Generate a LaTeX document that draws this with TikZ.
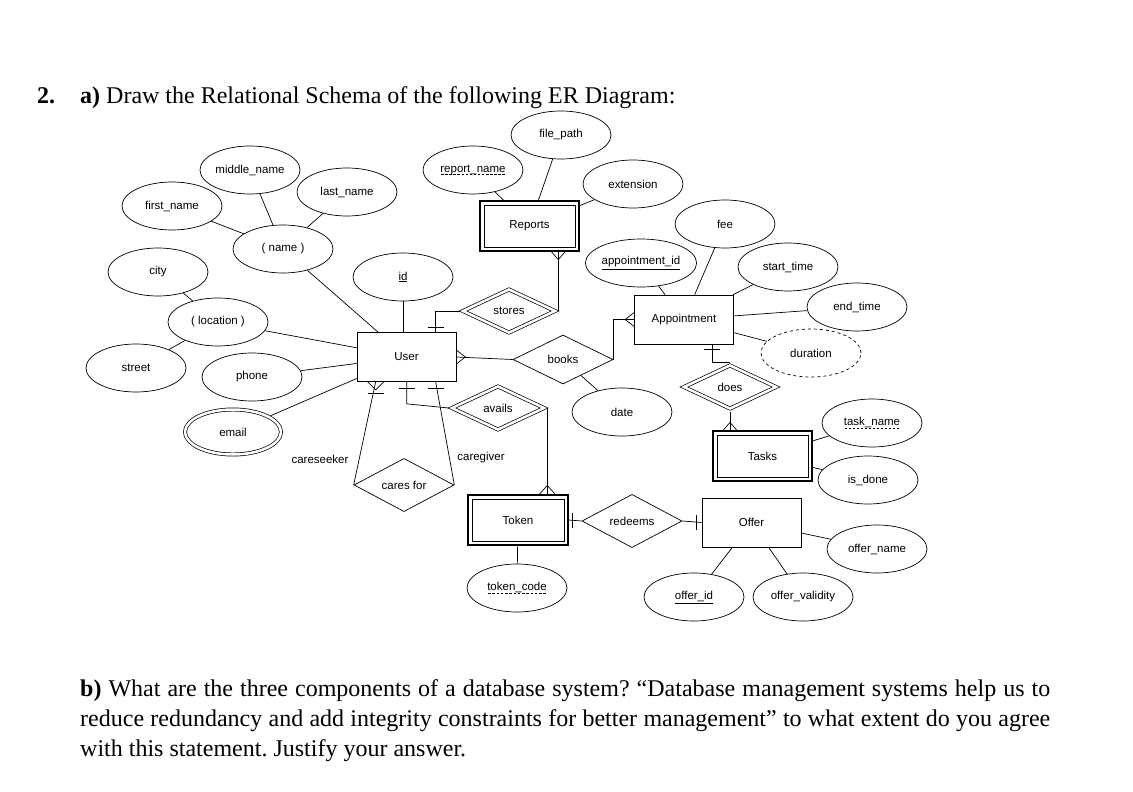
\documentclass[tikz,border=0pt]{standalone}
\usepackage{fontspec}
\setmainfont{Liberation Serif}
\newfontfamily\erfont{Liberation Sans}
\usetikzlibrary{shapes.geometric,calc}
\frenchspacing
\newcommand\dashul[1]{\setbox0=\hbox{#1}\leavevmode\rlap{\lower2.6pt\hbox to \wd0{\xleaders\hbox to 4pt{\hss\vrule height 0.7pt width 2.6pt\hss}\hfill}}\box0}
\newcommand\solul[1]{\underline{#1}}
\tikzset{
  erf/.style={font=\erfont\fontsize{11.5}{13}\selectfont},
  attr/.style={ellipse, draw, line width=0.7pt, minimum width=100pt, minimum height=48pt, inner sep=0pt, erf},
  dattr/.style={attr, dashed},
  mattr/.style={attr, double, double distance=2.5pt, minimum width=96pt, minimum height=45pt, outer sep=2.2pt},
  ent/.style={rectangle, draw, line width=0.7pt, minimum width=99pt, minimum height=49pt, inner sep=0pt, erf},
  went/.style={ent, line width=1.2pt, minimum height=50pt},
  innerbox/.style={draw, line width=0.7pt},
  rel/.style={diamond, draw, line width=0.7pt, minimum width=100pt, minimum height=49pt, inner sep=0pt, erf},
  wrel/.style={rel, double, double distance=2.5pt, minimum width=94pt, minimum height=45pt, outer sep=2.3pt},
  lnk/.style={draw, line width=0.7pt},
  lbl/.style={inner sep=0pt, erf},
}
\begin{document}
\begin{tikzpicture}[x=1pt,y=-1pt]
\useasboundingbox (0,0) rectangle (1133,792);
% title
\node[anchor=base west, inner sep=0pt, font=\fontsize{24}{30}\selectfont] (qnum) at (37,103) {\textbf{2.}};
\node[anchor=base west, inner sep=0pt, font=\fontsize{24}{30}\selectfont] (qa) at (80,103) {\textbf{a)} Draw the Relational Schema of the following ER Diagram:};
% attributes
\node[attr] (file_path) at (561,135) {file\_path};
\node[attr] (report_name) at (473,170) {\dashul{report\_name}};
\node[attr] (extension) at (633,184) {extension};
\node[went] (Reports) at (529.5,226) {Reports};
\node[attr] (appointment_id) at (641,263) {\solul{appointment\_id}};
\node[attr] (fee) at (725,224) {fee};
\node[attr] (start_time) at (788,267) {start\_time};
\node[attr] (end_time) at (857,307) {end\_time};
\node[dattr] (duration) at (811,353) {duration};
\node[ent] (Appointment) at (684,319.5) {Appointment};
\node[wrel] (does) at (730,387) {does};
\node[went] (Tasks) at (762.5,456) {Tasks};
\node[attr] (task_name) at (872,423) {\dashul{task\_name}};
\node[attr] (is_done) at (868,480) {is\_done};
\node[ent] (Offer) at (751.5,522.5) {Offer};
\node[attr] (offer_name) at (877,549) {offer\_name};
\node[attr] (offer_id) at (694,597) {\solul{offer\_id}};
\node[attr] (offer_validity) at (803,597) {offer\_validity};
\node[went, minimum width=100pt] (Token) at (518,520) {Token};
\node[attr] (token_code) at (517,588) {\dashul{token\_code}};
\node[rel] (redeems) at (632,521) {redeems};
\node[attr] (date) at (622,412) {date};
\node[rel] (books) at (563,359.5) {books};
\node[wrel] (stores) at (509,311) {stores};
\node[wrel] (avails) at (498,408) {avails};
\node[ent] (User) at (406.5,357) {User};
\node[attr] (id) at (403,277) {\solul{id}};
\node[attr] (name) at (283,249) {( name )};
\node[attr] (middle_name) at (250,170) {middle\_name};
\node[attr] (last_name) at (347,192) {last\_name};
\node[attr] (first_name) at (172,206) {first\_name};
\node[attr] (city) at (158,272) {city};
\node[attr] (location) at (218,322) {( location )};
\node[attr] (street) at (136,368) {street};
\node[attr] (phone) at (252,377) {phone};
\node[mattr] (email) at (233,432) {email};
\node[rel] (caresfor) at (404,485) {cares for};
\node[lbl] (careseeker) at (320,459) {careseeker};
\node[lbl] (caregiver) at (481,458) {caregiver};
% inner borders of weak entities
\foreach \n in {Reports,Tasks,Token}
  \draw[innerbox] ($(\n.north west)+(4.5,4.5)$) rectangle ($(\n.south east)+(-4.5,-4.5)$);
% attribute links
\draw[lnk] (middle_name) -- (name);
\draw[lnk] (last_name) -- (name);
\draw[lnk] (first_name) -- (name);
\draw[lnk] (name) -- (User);
\draw[lnk] (city) -- (location);
\draw[lnk] (street) -- (location);
\draw[lnk] (location) -- (User);
\draw[lnk] (phone) -- (User);
\draw[lnk] (email) -- (User);
\draw[lnk] (id) -- (id |- User.north);
\draw[lnk] (report_name) -- (Reports);
\draw[lnk] (file_path) -- (Reports);
\draw[lnk] (extension) -- (Reports);
\draw[lnk] (appointment_id) -- (Appointment);
\draw[lnk] (fee) -- (Appointment);
\draw[lnk] (start_time) -- (Appointment);
\draw[lnk] (end_time) -- (Appointment);
\draw[lnk] (duration) -- (Appointment);
\draw[lnk] (books) -- (date);
\draw[lnk] (Token) -- (token_code);
\draw[lnk] (task_name) -- (Tasks);
\draw[lnk] (is_done) -- (Tasks);
\draw[lnk] (offer_name) -- (Offer);
\draw[lnk] (offer_id) -- (Offer);
\draw[lnk] (offer_validity) -- (Offer);
% User -- stores
\coordinate (u1) at ($(User.north west)+(79,0)$);
\draw[lnk] (u1) |- (stores.west);
\draw[lnk] ($(u1)+(-8,-5)$) -- ($(u1)+(8,-5)$);
% stores -- Reports
\coordinate (r1) at (stores.east |- Reports.south);
\draw[lnk] (stores.east) -- (r1);
\draw[lnk] ($(r1)+(-7,0)$) -- ($(r1)+(0,8)$) -- ($(r1)+(7,0)$);
% User -- books
\draw[lnk] (User.east) -- (books.west);
\draw[lnk] ($(User.east)+(0,-7)$) -- ($(User.east)+(9,0)$) -- ($(User.east)+(0,7)$);
% books -- Appointment
\draw[lnk] (books.east) |- (Appointment.west);
\draw[lnk] ($(Appointment.west)+(0,-7)$) -- ($(Appointment.west)+(-9,0)$) -- ($(Appointment.west)+(0,7)$);
% Appointment -- does
\coordinate (a1) at ($(Appointment.south west)+(78,0)$);
\draw[lnk] (a1) |- (does.north);
\draw[lnk] ($(a1)+(-8,5)$) -- ($(a1)+(8,5)$);
% does -- Tasks
\coordinate (t1) at (does.south |- Tasks.north);
\draw[lnk] (does.south) -- (t1);
\draw[lnk] ($(t1)+(-7,0)$) -- ($(t1)+(0,-8)$) -- ($(t1)+(7,0)$);
% User -- avails
\coordinate (u3) at ($(User.south west)+(50,0)$);
\draw[lnk] (u3) -- ($(u3)+(0,22)$) -- (avails.west);
\draw[lnk] ($(u3)+(-8,6)$) -- ($(u3)+(8,6)$);
% User -- cares for (caregiver)
\coordinate (u4) at ($(User.south west)+(79,0)$);
\draw[lnk] (u4) -- (caresfor.east);
\draw[lnk] ($(u4)+(-8,6)$) -- ($(u4)+(8,6)$);
% User -- cares for (careseeker)
\coordinate (u5) at ($(User.south west)+(19,0)$);
\draw[lnk] (u5) -- (caresfor.west);
\draw[lnk] ($(u5)+(-8,0)$) -- ($(u5)+(0,8)$) -- ($(u5)+(8,0)$);
\draw[lnk] ($(u5)+(-8,11)$) -- ($(u5)+(8,11)$);
% avails -- Token
\coordinate (k1) at (avails.east |- Token.north);
\draw[lnk] (avails.east) -- (k1);
\draw[lnk] ($(k1)+(-8,0)$) -- ($(k1)+(0,-9)$) -- ($(k1)+(8,0)$);
% Token -- redeems -- Offer
\draw[lnk] (Token.east) -- (redeems.west);
\draw[lnk] ($(Token.east)+(4,-7.5)$) -- ($(Token.east)+(4,7.5)$);
\draw[lnk] (redeems.east) -- (Offer.west);
\draw[lnk] ($(Offer.west)+(-5,-7.5)$) -- ($(Offer.west)+(-5,7.5)$);
% question b
\node[anchor=north west, inner sep=0pt, text width=970pt, align=justify, font=\fontsize{24}{30}\selectfont] (qb) at (80,679) {\textbf{b)} What are the three components of a database system? “Database management systems help us to\linebreak reduce redundancy and add integrity constraints for better management” to what extent do you agree\linebreak with this statement. Justify your answer.};
\end{tikzpicture}
\end{document}
